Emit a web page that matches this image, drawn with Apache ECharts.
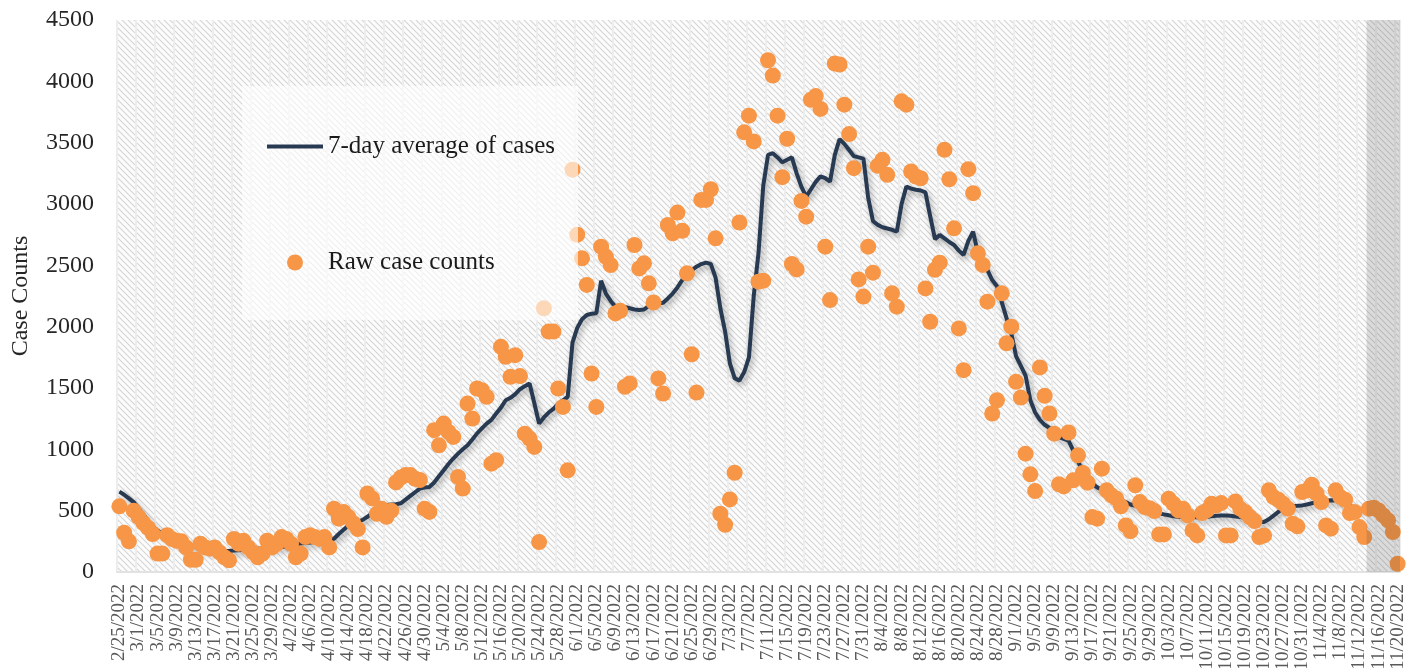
<!DOCTYPE html>
<html>
<head>
<meta charset="utf-8">
<title>Case counts</title>
<script src="https://cdn.jsdelivr.net/npm/echarts@6/dist/echarts.min.js"></script>
<style>
  html, body { margin: 0; padding: 0; background: #fff; }
  #chart { width: 1417px; height: 668px; }
</style>
</head>
<body>
<div id="chart"></div>
<script>
// first day of the series, one value per day after it
const startDate = new Date(2022, 1, 25);

// raw daily case counts, 2/25/2022 .. 11/20/2022
const rawCases = [
  535, 320, 250, 500, 450, 400, 360, 310, 150, 150,
  300, 270, 255, 250, 200, 100, 100, 230, 200, 190,
  200, 160, 120, 95, 270, 230, 255, 200, 160, 120,
  150, 255, 200, 230, 285, 270, 230, 120, 150, 285,
  300, 285, 270, 285, 200, 516, 435, 490,
  450, 400, 350, 200, 640, 600, 475, 516, 450, 500,
  730, 770, 790, 790, 760, 750, 516, 490, 1156, 1033,
  1210, 1142, 1101, 775, 680, 1373, 1251, 1496, 1482, 1428,
  883, 911, 1836, 1755, 1591, 1768, 1597, 1128, 1088, 1020,
  244, 2150, 1960, 1960, 1496, 1346, 829,
  3280, 2750, 2557, 2340, 1618, 1346, 2652, 2570, 2502, 2108,
  2129, 1510, 1537, 2666, 2475, 2516, 2353, 2198, 1578, 1455,
  2829, 2761, 2930, 2782, 2435, 1775, 1463, 3033, 3033, 3120,
  2720, 475, 385, 592, 809, 2849, 3584, 3720, 3510, 2367,
  2375, 4172, 4047, 3720, 3219, 3532, 2511,
  2467, 3025, 2897, 3850, 3880, 3775, 2652, 2217, 4145, 4137,
  3810, 3570, 3292, 2385, 2245, 2652, 2440, 3311, 3360, 3238,
  2272, 2163, 3837, 3810, 3265, 3224, 3210, 2312, 2040, 2463,
  2522, 3442, 3202, 2802, 1986, 1645, 3284, 3088, 2598, 2503,
  2204, 1292, 1400, 2272, 1864, 2000, 1550, 1422, 965,
  796, 660, 1668, 1436, 1292, 1128, 715, 698, 1137,
  747, 951, 807, 728, 448, 435, 842, 666, 625, 600,
  535, 380, 333, 707, 570, 530, 520, 497, 306, 306,
  598, 557, 502, 516, 461, 339, 298, 480, 502, 557,
  543, 562, 298, 298, 575, 516, 489, 448, 415, 285,
  298, 666, 611, 589, 557, 516, 394, 372, 652, 666,
  712, 639, 570, 380, 353, 666, 611, 589, 480, 489,
  366, 285, 516, 524, 502, 461, 421, 326, 67
];

// 7-day average, 2/25/2022 .. 11/13/2022
const avgCases = [
  655, 630, 600, 570, 520, 470, 420, 370, 340, 310,
  290, 270, 255, 240, 230, 215, 205, 195, 188, 182,
  178, 175, 173, 172, 175, 178, 182, 185, 188, 190,
  193, 196, 198, 200, 203, 210, 225, 230, 233, 236,
  240, 245, 250, 256, 262, 271, 310, 345,
  378, 395, 410, 425, 450, 480, 515, 535, 545, 550, 553, 560,
  590, 620, 650, 680, 688, 693, 730, 780, 830, 880,
  925, 965, 1000, 1033, 1080, 1130, 1170, 1210,
  1240, 1292, 1340, 1400, 1420, 1450, 1490, 1515, 1537, 1375,
  1210, 1260, 1300, 1330, 1370, 1400, 1428,
  1870, 1990, 2060, 2095, 2105, 2110, 2375, 2270, 2210, 2162,
  2160, 2160, 2150, 2140, 2135, 2140, 2170, 2190, 2190, 2195,
  2230, 2270, 2320, 2380, 2421, 2460, 2489, 2510, 2522, 2511,
  2400, 2150, 1960, 1700, 1580, 1560, 1630, 1750, 2250, 2600,
  3150, 3400, 3414, 3380, 3340, 3360, 3380, 3250, 3140, 3060,
  3120, 3180, 3225, 3210, 3183, 3400, 3529, 3490, 3440, 3390,
  3380, 3370, 3050, 2860, 2830, 2810, 2800, 2790, 2775, 3000,
  3143, 3125, 3116, 3110, 3094, 2900, 2713, 2748, 2720, 2690,
  2666, 2620, 2585, 2700, 2775, 2600, 2520, 2460, 2380, 2330,
  2200, 2070, 1945, 1760, 1680, 1600, 1400, 1300, 1240, 1200,
  1175, 1140, 1100, 1085, 1070, 990, 900, 820, 760, 720,
  690, 670, 650, 620, 600, 585, 570, 550, 540, 530,
  515, 500, 490, 478, 470, 462, 455, 450, 448, 446,
  446, 447, 448, 450, 455, 458, 460, 461, 458, 452,
  448, 440, 430, 420, 410, 408, 430, 460, 490, 520,
  532, 538, 540, 543, 550, 560, 570, 575, 580, 584,
  582, 575, 565, 540, 525, 510, 500
];

// grey band: the last days, counts not complete yet
const incompleteFrom = '11/14/2022';

const yMin = 0;
const yMax = 4500;
const yStep = 500;

// category labels m/d/yyyy
const categories = rawCases.map((_, i) => {
  const d = new Date(startDate);
  d.setDate(d.getDate() + i);
  return (d.getMonth() + 1) + '/' + d.getDate() + '/' + d.getFullYear();
});
const bandStart = categories.indexOf(incompleteFrom);

// diagonal hatch used as plot background
function hatchTile() {
  const c = document.createElement('canvas');
  c.width = c.height = 6;
  const g = c.getContext('2d');
  g.fillStyle = '#fcfcfc';
  g.fillRect(0, 0, 6, 6);
  g.strokeStyle = '#d4d4d4';
  g.lineWidth = 1.1;
  [-6, 0, 6].forEach((k) => {
    g.beginPath();
    g.moveTo(k - 1, -1);
    g.lineTo(k + 7, 7);
    g.stroke();
  });
  return c;
}

const serif = 'Liberation Serif';
const lineColor = '#283a52';
const chart = echarts.init(document.getElementById('chart'));

chart.setOption({
  animation: false,
  backgroundColor: '#ffffff',
  grid: {
    left: 117, right: 17, top: 20, bottom: 96,
    outerBoundsMode: 'none',
    containLabel: false,
    show: true,
    borderWidth: 0,
    backgroundColor: { image: hatchTile(), repeat: 'repeat' }
  },
  graphic: {
    elements: [{
      // translucent box behind the legend
      type: 'rect',
      left: 242, top: 86,
      shape: { width: 336, height: 234 },
      style: { fill: 'rgba(255,255,255,0.62)' },
      z: 100
    }]
  },
  legend: [
    {
      data: [{ name: '7-day average of cases', icon: 'path://M0,0 L56,0 L56,4 L0,4 Z' }],
      left: 267, top: 134,
      padding: 0,
      itemWidth: 56, itemHeight: 4,
      selectedMode: false,
      textStyle: { fontFamily: serif, fontSize: 25, color: '#1a1a1a' },
      z: 110
    },
    {
      data: ['Raw case counts'],
      left: 287, top: 250,
      padding: 0,
      itemWidth: 56, itemHeight: 16,
      selectedMode: false,
      textStyle: { fontFamily: serif, fontSize: 25, color: '#1a1a1a' },
      z: 110
    }
  ],
  xAxis: [
    {
      type: 'category',
      data: categories,
      boundaryGap: true,
      axisTick: { show: false },
      axisLine: { lineStyle: { color: '#e2e2e2', width: 2 } },
      axisLabel: {
        interval: 3,
        rotate: 90,
        margin: 12,
        fontFamily: serif,
        fontSize: 19,
        color: '#595959'
      },
      splitLine: {
        show: true,
        interval: 3,
        lineStyle: { color: '#ededed', width: 2 }
      }
    },
    {
      // index axis, used only to place the grey band on category edges
      type: 'value',
      min: -0.5,
      max: categories.length - 0.5,
      show: false
    }
  ],
  yAxis: {
    type: 'value',
    min: yMin,
    max: yMax,
    interval: yStep,
    name: 'Case Counts',
    nameLocation: 'middle',
    nameGap: 84,
    nameTextStyle: { fontFamily: serif, fontSize: 24, color: '#262626' },
    axisLine: { show: false },
    axisTick: { show: false },
    splitLine: { show: false },
    axisLabel: {
      fontFamily: serif, fontSize: 24, color: '#262626', margin: 23,
      formatter: (v) => String(v)
    }
  },
  series: [
    {
      name: '7-day average of cases',
      type: 'line',
      data: avgCases,
      symbol: 'none',
      showSymbol: false,
      z: 2,
      itemStyle: { color: lineColor },
      lineStyle: {
        color: lineColor,
        width: 4,
        shadowColor: 'rgba(0,0,0,0.35)',
        shadowBlur: 6,
        shadowOffsetX: 2,
        shadowOffsetY: 3
      }
    },
    {
      name: 'Raw case counts',
      type: 'scatter',
      data: rawCases,
      symbolSize: 16,
      z: 3,
      itemStyle: { color: '#f79646', opacity: 1 }
    },
    {
      name: 'band',
      type: 'line',
      xAxisIndex: 1,
      data: [],
      markArea: {
        silent: true,
        z: 10,
        itemStyle: { color: 'rgba(60,60,60,0.17)' },
        data: [[{ xAxis: bandStart - 0.5 }, { xAxis: categories.length - 0.5 }]]
      }
    }
  ]
});
</script>
</body>
</html>
